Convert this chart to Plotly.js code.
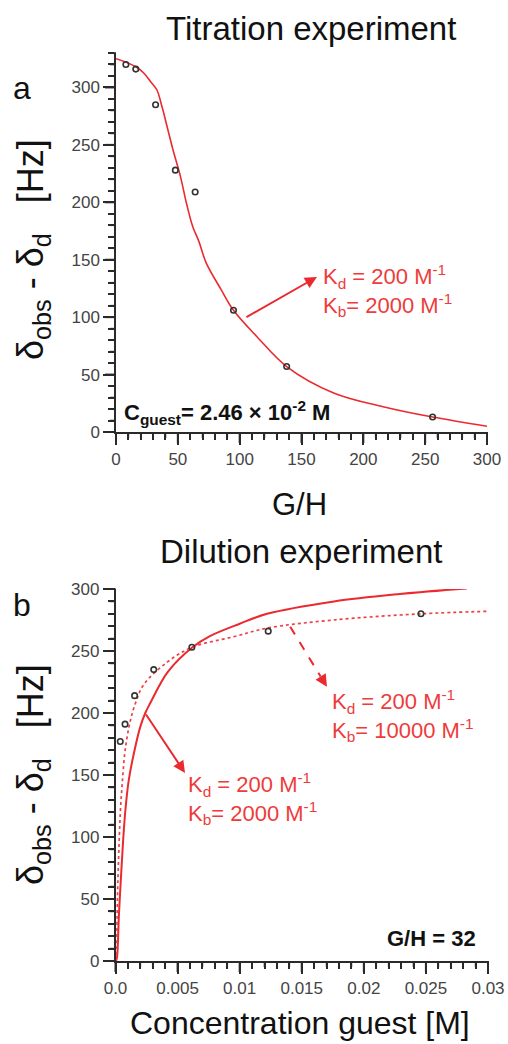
<!DOCTYPE html>
<html>
<head>
<meta charset="utf-8">
<script src="https://cdn.plot.ly/plotly-3.0.1.min.js"></script>
<style>html,body{margin:0;padding:0;background:#fff;}#chart{width:508px;height:1044px;}</style>
</head>
<body>
<div id="chart"></div>
<script>
// ---- Data: (a) titration experiment ----
const titrGH = [8, 16, 32, 48, 64, 95, 138, 256];
const titrObs = [320, 316, 285, 228, 209, 106, 57, 13];
const titrFitGH = [0, 8, 16, 22, 28, 33, 37, 42, 46, 52, 57, 62, 67, 73, 85, 95, 114, 138, 176, 216, 256, 300];
const titrFit = [325, 322, 318, 313, 305, 298, 284, 263, 246, 223, 199, 179, 166, 147, 124, 106, 83, 57, 34, 22, 13, 5];

// ---- Data: (b) dilution experiment ----
const dilConc = [0.000384, 0.000769, 0.00154, 0.00308, 0.00615, 0.0123, 0.0246];
const dilObs = [177, 191, 214, 235, 253, 266, 280];
const fit2000Conc = [0.00005, 0.00013, 0.00027, 0.00046, 0.00062, 0.0008, 0.00107, 0.00147, 0.002, 0.0024, 0.0028, 0.0042, 0.0062, 0.0076, 0.0100, 0.0122, 0.0176, 0.0229, 0.0283];
const fit2000 = [0, 3.5, 36, 71, 98, 122, 146, 167, 189, 200, 208, 233, 253, 262, 272, 280, 290, 296, 300.5];
const fit10000Conc = [0.00003, 0.00008, 0.00013, 0.00019, 0.0003, 0.0004, 0.00054, 0.00072, 0.00094, 0.0012, 0.00161, 0.00228, 0.00416, 0.00617, 0.00951, 0.01225, 0.01756, 0.0246, 0.030];
const fit10000 = [0, 3.5, 36, 63, 98, 122, 143, 165, 181, 194, 208, 223, 241, 253, 261.5, 268.5, 275, 280, 282];

const ghRange = [0, 300], ghTickStep = 50, ghMinorStep = 10;
const concRange = [0, 0.03], concTickStep = 0.005, concMinorStep = 0.001;
const hzRangeA = [0, 330], hzRangeB = [0, 300], hzTickStep = 50, hzMinorStep = 10;
const concTickAlias = {'0': '0.0'};

// ---- Styling ----
const RED = '#ea2a2f';
const TEXTRED = '#ee3b3b';
const AX = '#2a2a2a';
const FONT = 'Liberation Sans, Arial, sans-serif';
const W = 508, H = 1044;
const px = x => x / W;
const py = y => 1 - y / H;

const domXA = [px(116), px(487)], domYA = [py(432), py(53)];
const domXB = [px(115.5), px(488)], domYB = [py(961), py(589)];

function axisBase(extra, range, step, minorStep) {
  return Object.assign({
    range: [range[0], range[1] + (range[1] - range[0]) * 1e-6],
    showline: true, linecolor: AX, linewidth: 1.5,
    ticks: 'outside', ticklen: 11, tickwidth: 2, tickcolor: AX,
    tickmode: 'linear', tick0: 0, dtick: step,
    showgrid: false, zeroline: false, automargin: false,
    tickfont: {family: FONT, size: 17, color: '#444'},
    minor: {tick0: 0, dtick: minorStep, ticks: 'outside', ticklen: 6, tickwidth: 1.6, tickcolor: AX, showgrid: false}
  }, extra);
}

// tick marks as paper shapes (major every step, minor every minorStep)
function tickShapes(range, step, minorStep, dom, otherPos, horizontal) {
  const out = [];
  const n = Math.round((range[1] - range[0]) / minorStep);
  const ratio = Math.round(step / minorStep);
  for (let i = 0; i <= n; i++) {
    const f = i / n;
    const len = (i % ratio === 0) ? 11 : 6;
    const wid = (i % ratio === 0) ? 2 : 1.6;
    const p = dom[0] + f * (dom[1] - dom[0]);
    if (horizontal) {
      out.push({type: 'line', xref: 'paper', yref: 'paper', x0: p, x1: p, y0: otherPos, y1: otherPos - len / H, line: {color: AX, width: wid}});
    } else {
      out.push({type: 'line', xref: 'paper', yref: 'paper', y0: p, y1: p, x0: otherPos, x1: otherPos - len / W, line: {color: AX, width: wid}});
    }
  }
  return out;
}

const traces = [
  {x: titrFitGH, y: titrFit, xaxis: 'x', yaxis: 'y', mode: 'lines', line: {color: RED, width: 1.6, shape: 'spline', smoothing: 1}},
  {x: titrGH, y: titrObs, xaxis: 'x', yaxis: 'y', mode: 'markers', marker: {symbol: 'circle-open', size: 5.5, color: '#333', line: {width: 1.6}}},
  {x: fit2000Conc, y: fit2000, xaxis: 'x2', yaxis: 'y2', mode: 'lines', line: {color: RED, width: 2, shape: 'spline', smoothing: 1}},
  {x: fit10000Conc, y: fit10000, xaxis: 'x2', yaxis: 'y2', mode: 'lines', line: {color: '#ee4046', width: 1.7, dash: 'dot', shape: 'spline', smoothing: 1}},
  {x: dilConc, y: dilObs, xaxis: 'x2', yaxis: 'y2', mode: 'markers', marker: {symbol: 'circle-open', size: 5.5, color: '#333', line: {width: 1.6}}}
];

const ytitle = 'δ<sub>obs</sub> - δ<sub>d</sub>&nbsp;&nbsp;&nbsp;[Hz]';

function txt(text, x, y, size, opts) {
  return Object.assign({
    text: text, x: px(x), y: py(y), xref: 'paper', yref: 'paper',
    showarrow: false, font: {family: FONT, size: size, color: '#111'},
    xanchor: 'center', yanchor: 'middle'
  }, opts || {});
}
const redFont = {family: FONT, size: 22, color: TEXTRED};

const annotations = [
  txt('Titration experiment', 311, 28, 33),
  txt('a', 22, 88, 32),
  txt(ytitle, 33, 250, 36, {textangle: -90}),
  txt('G/H', 299, 504, 31),
  txt('<b>C<sub>guest</sub>= 2.46 × 10<sup>-2</sup> M</b>', 122, 412, 22, {xanchor: 'left'}),
  txt('K<sub>d</sub> = 200 M<sup>-1</sup><br>K<sub>b</sub>= 2000 M<sup>-1</sup>', 321, 290, 22, {xanchor: 'left', align: 'left', font: redFont}),

  txt('Dilution experiment', 301, 551, 33),
  txt('b', 22, 605, 32),
  txt(ytitle, 33, 775, 36, {textangle: -90}),
  txt('Concentration guest [M]', 300, 1043, 32, {yanchor: 'bottom'}),
  txt('<b>G/H = 32</b>', 478, 938, 22, {xanchor: 'right'}),
  txt('K<sub>d</sub> = 200 M<sup>-1</sup><br>K<sub>b</sub>= 10000 M<sup>-1</sup>', 330, 715, 22, {xanchor: 'left', align: 'left', font: redFont}),
  txt('K<sub>d</sub> = 200 M<sup>-1</sup><br>K<sub>b</sub>= 2000 M<sup>-1</sup>', 186, 798, 22, {xanchor: 'left', align: 'left', font: redFont}),

  // arrows
  {x: 162.5, y: 135, ax: 104.3, ay: 99.3, xref: 'x', yref: 'y', axref: 'x', ayref: 'y', text: '', showarrow: true,
   arrowhead: 2, arrowsize: 1.2, arrowwidth: 2, arrowcolor: RED, standoff: 0},
  {x: 0.0056, y: 151.6, ax: 0.00238, ay: 200, xref: 'x2', yref: 'y2', axref: 'x2', ayref: 'y2', text: '', showarrow: true,
   arrowhead: 2, arrowsize: 1.2, arrowwidth: 2, arrowcolor: RED, standoff: 0},
  {x: 0.01703, y: 221.2, ax: 0.01652, ay: 229.4, xref: 'x2', yref: 'y2', axref: 'x2', ayref: 'y2', text: '', showarrow: true,
   arrowhead: 2, arrowsize: 1.2, arrowwidth: 2, arrowcolor: RED, standoff: 0}
];

const shapes = [
  {type: 'line', xref: 'x2', yref: 'y2', x0: 0.01407, y0: 269.6, x1: 0.01652, y1: 229.4,
   line: {color: RED, width: 2, dash: 'dash'}}
].concat(
  tickShapes(ghRange, ghTickStep, ghMinorStep, domXA, domYA[0], true),
  tickShapes(hzRangeA, hzTickStep, hzMinorStep, domYA, domXA[0], false),
  tickShapes(concRange, concTickStep, concMinorStep, domXB, domYB[0], true),
  tickShapes(hzRangeB, hzTickStep, hzMinorStep, domYB, domXB[0], false)
);

const layout = {
  width: W, height: H,
  margin: {l: 0, r: 0, t: 0, b: 0},
  paper_bgcolor: '#fff', plot_bgcolor: '#fff',
  showlegend: false,
  font: {family: FONT},
  xaxis: axisBase({domain: domXA, anchor: 'y'}, ghRange, ghTickStep, ghMinorStep),
  yaxis: axisBase({domain: domYA, anchor: 'x'}, hzRangeA, hzTickStep, hzMinorStep),
  xaxis2: axisBase({domain: domXB, anchor: 'y2', labelalias: concTickAlias}, concRange, concTickStep, concMinorStep),
  yaxis2: axisBase({domain: domYB, anchor: 'x2'}, hzRangeB, hzTickStep, hzMinorStep),
  annotations: annotations,
  shapes: shapes
};

Plotly.newPlot('chart', traces, layout, {displayModeBar: false});
</script>
</body>
</html>
